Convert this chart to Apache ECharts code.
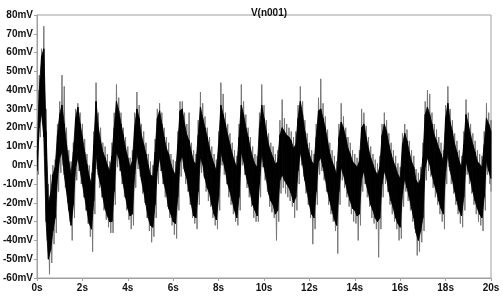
<!DOCTYPE html>
<html>
<head>
<meta charset="utf-8">
<script src="https://cdn.jsdelivr.net/npm/echarts@6/dist/echarts.min.js"></script>
<style>
html,body{margin:0;padding:0;background:#fff;}
#c{width:503px;height:297px;}
</style>
</head>
<body>
<div id="c"></div>
<script>
// Sample spacing in seconds (samples at t = i * step, i = 0..200)
var step = 0.1;
var traceName = "V(n001)";
// Dense (black) band of the trace: upper edge, mV
var coreHi = [
  5, 40, 58, 62, 18, -20, -15, -5, -1, 16,
  27, 32, 22, 11, 2, -5, 7, 25, 31, 22,
  15, 7, 0.5, -6, -10, 11, 34, 20, 13, 7,
  4, 0, -3, 5, 20, 34, 29, 22, 16, 9,
  4, -1, 2, 20, 30, 25, 16, 11, 6, 0,
  -5, -6, 7, 25, 29, 22, 15, 9, 6, 0.5,
  -3, -5, 11, 29, 30, 22, 16, 13, 7, 2,
  0.5, 16, 31, 25, 20, 15, 9, 4, 0.5, -3,
  11, 32, 27, 22, 16, 11, 6, 2, -1, 15,
  32, 27, 20, 15, 9, 4, 0.5, -1, 20, 32,
  25, 18, 11, 7, 4, 0.5, 2, 16, 20, 18,
  16, 15, 13, 9, 11, 25, 34, 27, 18, 11,
  6, 2, 0.5, 15, 29, 30, 25, 20, 13, 6,
  2, -1, -5, 15, 23, 20, 15, 9, 6, 2,
  0.5, -1, 2, 20, 22, 15, 9, 4, 0.5, -3,
  -5, -1, 16, 22, 18, 11, 6, 2, -1, -5,
  -7, 11, 17, 13, 7, 2, -1, -8, -10, -7,
  4, 27, 31, 27, 22, 16, 13, 9, 6, 2,
  25, 33, 23, 18, 11, 7, 2, -1, 11, 27,
  22, 16, 11, 7, 2, 0.5, -1, 11, 25, 22,
  18
];
// Dense (black) band of the trace: lower edge, mV
var coreLo = [
  -3, 20, 28, 15, -30, -50, -45, -35, -28, -7,
  4, 7, -5, -14, -24, -32, -21, -1, 4, -3,
  -10, -17, -24, -31, -34, -19, 6, -5, -10, -17,
  -23, -27, -30, -30, -14, 7, 4, -3, -10, -17,
  -23, -27, -26, -5, 6, 0.5, -8, -14, -21, -28,
  -32, -33, -21, -3, 4, -3, -10, -15, -23, -26,
  -30, -31, -17, 2, 5, -3, -7, -14, -21, -27,
  -28, -14, 4, 0.5, -7, -12, -15, -21, -26, -29,
  -17, 7, 2, -3, -10, -14, -19, -24, -28, -17,
  7, 2, -5, -10, -15, -21, -24, -27, -10, 6,
  -1, -7, -15, -19, -21, -26, -24, -8, -5, -8,
  -10, -12, -15, -20, -17, -3, 7, 0.5, -8, -14,
  -21, -26, -28, -14, 2, 4, -1, -7, -14, -19,
  -24, -29, -32, -14, -1, -5, -10, -15, -19, -23,
  -24, -27, -26, -7, -3, -10, -15, -21, -24, -28,
  -30, -28, -10, -3, -7, -14, -19, -23, -28, -31,
  -33, -15, -7, -12, -17, -23, -28, -36, -40, -35,
  -28, -1, 4, 0.5, -5, -10, -14, -19, -23, -26,
  -3, 6, -3, -8, -14, -19, -24, -27, -17, 2,
  -3, -8, -14, -19, -23, -26, -28, -17, 2, -3,
  -7
];
// Tips of the thin spikes above the band, mV
var spikeHi = [
  8, 48, 62, 74, 30, -10, -5, 0, 3, 22,
  34, 48, 42, 20, 8, 2, 12, 30, 33, 28,
  22, 14, 6, 0, -4, 18, 44, 28, 20, 12,
  10, 6, 2, 12, 28, 43, 36, 28, 20, 15,
  10, 4, 8, 28, 39, 32, 22, 18, 12, 6,
  2, 0, 14, 30, 33, 28, 20, 15, 12, 6,
  3, 2, 18, 34, 34, 28, 22, 28, 12, 8,
  6, 24, 39, 33, 26, 20, 15, 10, 6, 3,
  18, 44, 38, 28, 22, 17, 12, 8, 5, 22,
  43, 34, 27, 20, 15, 10, 6, 5, 28, 43,
  32, 24, 17, 12, 10, 6, 8, 24, 35, 25,
  22, 20, 18, 15, 18, 32, 42, 34, 24, 17,
  12, 8, 6, 22, 36, 46, 33, 26, 19, 12,
  8, 5, 2, 22, 33, 26, 20, 15, 12, 8,
  6, 4, 8, 30, 28, 21, 15, 10, 6, 3,
  1, 5, 22, 28, 24, 17, 12, 8, 5, 1,
  -1, 17, 22, 19, 13, 8, 5, -2, -4, -1,
  12, 34, 40, 38, 28, 22, 19, 15, 12, 8,
  32, 42, 30, 24, 17, 13, 8, 5, 18, 35,
  28, 22, 17, 13, 8, 6, 5, 18, 33, 28,
  24
];
// Tips of the thin spikes below the band, mV
var spikeLo = [
  -5, 15, 22, 5, -40, -58, -52, -42, -36, -14,
  -4, 0, -12, -20, -30, -40, -28, -8, -3, -10,
  -17, -24, -31, -38, -46, -26, -2, -12, -17, -24,
  -29, -33, -36, -36, -21, -1, -3, -10, -17, -24,
  -29, -34, -32, -12, -2, -6, -15, -20, -28, -35,
  -41, -38, -28, -10, -3, -10, -17, -22, -28, -32,
  -37, -39, -24, -6, -2, -10, -14, -21, -28, -31,
  -34, -21, -4, -6, -14, -19, -22, -28, -32, -34,
  -24, 0, -5, -10, -17, -21, -26, -30, -32, -24,
  0, -5, -12, -17, -22, -28, -30, -30, -17, -1,
  -8, -14, -22, -25, -28, -40, -30, -15, -12, -15,
  -17, -19, -22, -28, -24, -10, 0, -6, -15, -21,
  -28, -42, -34, -21, -5, -3, -8, -14, -21, -26,
  -30, -35, -47, -21, -8, -12, -17, -22, -26, -30,
  -31, -40, -32, -14, -10, -17, -22, -28, -31, -34,
  -49, -34, -17, -10, -14, -21, -26, -30, -34, -40,
  -39, -22, -14, -19, -24, -30, -34, -48, -46, -41,
  -35, -8, -3, -6, -12, -17, -21, -26, -30, -34,
  -10, -1, -10, -15, -21, -26, -31, -33, -24, -5,
  -10, -15, -21, -26, -30, -32, -35, -24, -5, -10,
  -14
];
// Axis ranges / ticks
var xMin = 0, xMax = 20, xInterval = 2;
var yMin = -60, yMax = 80, yInterval = 10;

// Band pieces between neighbouring samples: [t0, hi0, lo0, t1, hi1, lo1]
var bandData = [], spikeData = [];
for (var i = 0; i < coreHi.length; i++) {
  var t = i * step;
  if (i < coreHi.length - 1) {
    bandData.push([t, coreHi[i], coreLo[i], (i + 1) * step, coreHi[i + 1], coreLo[i + 1]]);
  }
  spikeData.push([t, spikeHi[i]]);
  spikeData.push([Math.min(t + step / 2, xMax), spikeLo[i]]);
}

var axisGray = '#a0a0a0';
var labelStyle = {color: '#111', fontFamily: 'Liberation Sans, Arial, sans-serif', fontWeight: 'bold', fontSize: 10};

var chart = echarts.init(document.getElementById('c'), null, {renderer: 'canvas'});
chart.setOption({
  animation: false,
  backgroundColor: '#fff',
  title: {
    text: traceName,
    left: 264, top: 3,
    textAlign: 'center',
    textStyle: {color: '#111', fontFamily: 'Liberation Sans, Arial, sans-serif', fontWeight: 'bold', fontSize: 10}
  },
  grid: {left: 37, right: 12, top: 15, bottom: 19, show: true, borderColor: axisGray, borderWidth: 1, backgroundColor: 'transparent'},
  xAxis: {
    type: 'value', min: xMin, max: xMax, interval: xInterval,
    axisLine: {show: true, onZero: false, lineStyle: {color: axisGray}},
    axisTick: {show: true, length: 3, lineStyle: {color: axisGray}},
    splitLine: {show: false},
    axisLabel: Object.assign({margin: 5, formatter: function (v) { return v + 's'; }}, labelStyle)
  },
  yAxis: {
    type: 'value', min: yMin, max: yMax, interval: yInterval,
    axisLine: {show: true, onZero: false, lineStyle: {color: axisGray}},
    axisTick: {show: true, length: 3, lineStyle: {color: axisGray}},
    splitLine: {show: false},
    axisLabel: Object.assign({margin: 4, formatter: function (v) { return v + 'mV'; }}, labelStyle)
  },
  series: [{
    name: 'spikes',
    type: 'line',
    data: spikeData,
    symbol: 'none',
    clip: true,
    z: 1,
    lineStyle: {color: '#777', width: 1},
    silent: true
  }, {
    name: 'band',
    type: 'custom',
    data: bandData,
    encode: {x: [0, 3], y: [1, 2, 4, 5]},
    clip: true,
    z: 2,
    silent: true,
    renderItem: function (params, api) {
      var p1 = api.coord([api.value(0), api.value(1)]);
      var p2 = api.coord([api.value(3), api.value(4)]);
      var p3 = api.coord([api.value(3), api.value(5)]);
      var p4 = api.coord([api.value(0), api.value(2)]);
      return {
        type: 'polygon',
        shape: {points: [p1, p2, p3, p4]},
        style: {fill: '#000', stroke: '#000', lineWidth: 0.8}
      };
    }
  }]
});
</script>
</body>
</html>
